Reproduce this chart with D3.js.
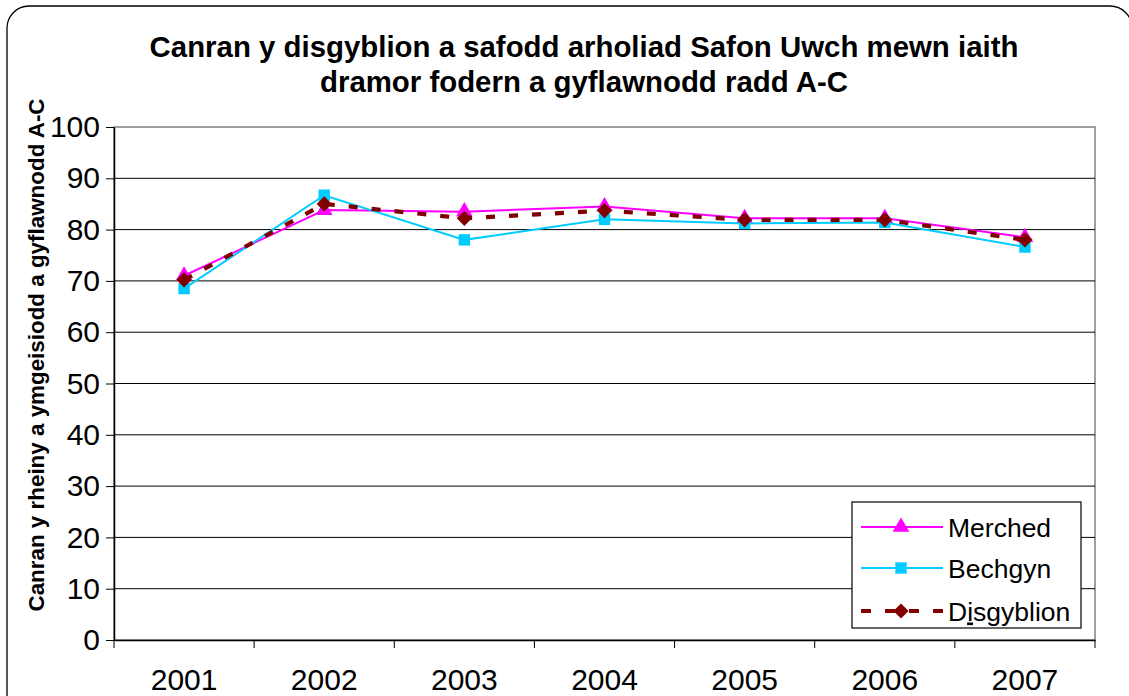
<!DOCTYPE html>
<html>
<head>
<meta charset="utf-8">
<script src="https://cdn.jsdelivr.net/npm/d3@7"></script>
<style>
  html, body { margin: 0; padding: 0; background: #fff; overflow: hidden; }
  svg { display: block; font-family: "Liberation Sans", Arial, sans-serif; }
</style>
</head>
<body>
<script>
// data
const years = ['2001', '2002', '2003', '2004', '2005', '2006', '2007'];
const merched = [71, 83.8, 83.5, 84.5, 82.2, 82.2, 78.5];
const bechgyn = [68.5, 86.7, 78, 82, 81.2, 81.4, 76.6];
const disgyblion = [70.2, 85, 82.2, 83.7, 81.9, 81.9, 78];
const yTicks = [0, 10, 20, 30, 40, 50, 60, 70, 80, 90, 100];

const W = 1129, H = 696;
const plot = { left: 114, right: 1095, top: 127, bottom: 640 };

const svg = d3.select('body').append('svg')
  .attr('width', W)
  .attr('height', H);

// outer rounded frame (runs off the right and bottom)
svg.append('rect')
  .attr('x', 7).attr('y', 6)
  .attr('width', 1125).attr('height', 740)
  .attr('rx', 22).attr('ry', 22)
  .attr('fill', 'none')
  .attr('stroke', '#000')
  .attr('stroke-width', 1.3);

// title
const title = svg.append('text')
  .attr('text-anchor', 'middle')
  .attr('font-weight', 'bold')
  .attr('font-size', 29.4)
  .attr('fill', '#000');
title.append('tspan').attr('x', 584).attr('y', 57)
  .text('Canran y disgyblion a safodd arholiad Safon Uwch mewn iaith');
title.append('tspan').attr('x', 584).attr('y', 92)
  .text('dramor fodern a gyflawnodd radd A-C');

const x = d3.scaleBand().domain(years).range([plot.left, plot.right]);
const y = d3.scaleLinear().domain([0, 100]).range([plot.bottom, plot.top]);

// plot area border
svg.append('rect')
  .attr('x', plot.left).attr('y', plot.top)
  .attr('width', plot.right - plot.left)
  .attr('height', plot.bottom - plot.top)
  .attr('fill', 'none')
  .attr('stroke', '#808080')
  .attr('stroke-width', 1.5);

// gridlines
svg.append('g').selectAll('line')
  .data(yTicks.filter(d => d > 0 && d < 100))
  .enter().append('line')
  .attr('x1', plot.left).attr('x2', plot.right)
  .attr('y1', d => y(d)).attr('y2', d => y(d))
  .attr('stroke', '#000')
  .attr('stroke-width', 1);

// y axis
const yAxis = svg.append('g')
  .attr('transform', `translate(${plot.left},0)`)
  .call(d3.axisLeft(y).tickValues(yTicks).tickSize(8).tickPadding(6).tickSizeOuter(0))
  .attr('font-family', null).attr('font-size', null);
yAxis.selectAll('text').attr('font-size', 30).attr('fill', '#000');

// x axis, ticks on band edges
const xAxis = svg.append('g')
  .attr('transform', `translate(0,${plot.bottom})`)
  .call(d3.axisBottom(x).tickSize(0).tickPadding(29).tickSizeOuter(0))
  .attr('font-family', null).attr('font-size', null);
xAxis.selectAll('text').attr('font-size', 30).attr('fill', '#000');
xAxis.selectAll('.edge')
  .data(years.concat(['end']))
  .enter().append('line')
  .attr('class', 'edge')
  .attr('x1', (d, i) => i < years.length ? x(d) : plot.right)
  .attr('x2', (d, i) => i < years.length ? x(d) : plot.right)
  .attr('y1', 0).attr('y2', 8)
  .attr('stroke', '#000');
svg.selectAll('.domain').attr('stroke', '#000').attr('stroke-width', 1.5);

// y axis title
svg.append('text')
  .attr('transform', 'translate(44,355) rotate(-90)')
  .attr('text-anchor', 'middle')
  .attr('font-weight', 'bold')
  .attr('font-size', 22.4)
  .text('Canran y rheiny a ymgeisiodd a gyflawnodd A-C');

const cx = (d, i) => x(years[i]) + x.bandwidth() / 2;
const line = d3.line().x(cx).y(d => y(d));

const series = [
  { name: 'Merched', values: merched, color: '#FF00FF', width: 2, dash: null, shape: d3.symbolTriangle, size: 120, rot: 0 },
  { name: 'Bechgyn', values: bechgyn, color: '#00CCFF', width: 2, dash: null, shape: d3.symbolSquare, size: 130, rot: 0 },
  { name: 'Disgyblion', values: disgyblion, color: '#800000', width: 4.2, dash: '9,14', shape: d3.symbolSquare, size: 115, rot: 45 }
];

series.forEach(s => {
  svg.append('path')
    .datum(s.values)
    .attr('d', line)
    .attr('fill', 'none')
    .attr('stroke', s.color)
    .attr('stroke-width', s.width)
    .attr('stroke-dasharray', s.dash);
  svg.append('g').selectAll('path')
    .data(s.values)
    .enter().append('path')
    .attr('d', d3.symbol().type(s.shape).size(s.size))
    .attr('transform', (d, i) => `translate(${cx(d, i)},${y(d)}) rotate(${s.rot})`)
    .attr('fill', s.color);
});

// legend
const lg = svg.append('g').attr('transform', 'translate(852,502)');
lg.append('rect')
  .attr('width', 229).attr('height', 126)
  .attr('fill', '#fff')
  .attr('stroke', '#000')
  .attr('stroke-width', 1.2);
const rowY = [25, 66, 109];
series.forEach((s, i) => {
  const g = lg.append('g').attr('transform', `translate(0,${rowY[i]})`);
  g.append('line')
    .attr('x1', 9).attr('x2', 91)
    .attr('stroke', s.color)
    .attr('stroke-width', s.width)
    .attr('stroke-dasharray', s.dash ? '10,14' : null);
  g.append('path')
    .attr('d', d3.symbol().type(s.shape).size(s.size))
    .attr('transform', `translate(49,0) rotate(${s.rot})`)
    .attr('fill', s.color);
  const t = g.append('text')
    .attr('x', 96).attr('y', 9.5)
    .attr('font-size', 26.5)
    .attr('fill', '#000');
  if (s.name === 'Disgyblion') {
    t.append('tspan').text('D');
    t.append('tspan').attr('text-decoration', 'underline').text('i');
    t.append('tspan').text('sgyblion');
  } else {
    t.text(s.name);
  }
});
</script>
</body>
</html>
